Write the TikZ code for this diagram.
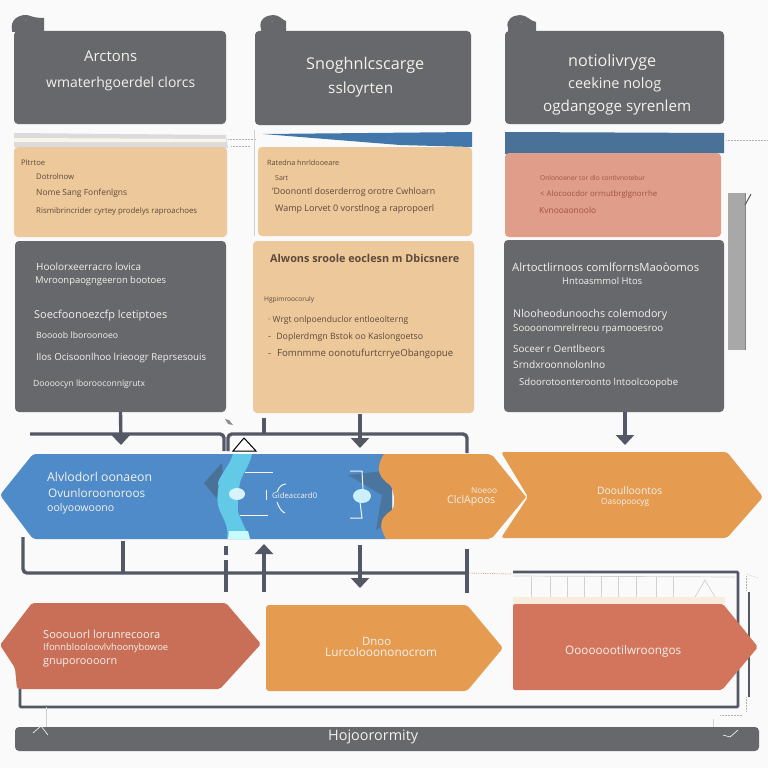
\documentclass[tikz,border=0pt]{standalone}
\usepackage{graphicx}
\usepackage{fontspec}
\setmainfont{Open Sans}
\usetikzlibrary{arrows.meta}
\definecolor{bgc}{HTML}{FAFAFA}
\definecolor{slate}{HTML}{67686C}
\definecolor{tan}{HTML}{ECC89A}
\definecolor{salmon}{HTML}{E09D8A}
\definecolor{bluec}{HTML}{4F8BC9}
\definecolor{deepb}{HTML}{4A7299}
\definecolor{orangec}{HTML}{E59B50}
\definecolor{redl}{HTML}{C96F58}
\definecolor{redr}{HTML}{D2755C}
\definecolor{conn}{HTML}{535864}
\definecolor{inkt}{HTML}{5E4A3A}
\definecolor{inks}{HTML}{A5503F}
\definecolor{lighttxt}{HTML}{F4F1EC}
\tikzset{
  panel/.style={rounded corners=4pt,inner sep=0pt,outer sep=0pt},
  link/.style={draw=conn,line width=3.4pt,line join=round,rounded corners=4pt},
  feed/.style={link,-{Triangle[width=18pt,length=10pt]}},
  hair/.style={draw=black!18,line width=0.7pt},
  fine/.style={draw=black!30,line width=0.5pt,densely dotted},
  brack/.style={draw=white!92!bluec,line width=1pt}
}
\newcommand{\panelbox}[6]{%
  \pgfmathsetmacro{\pcx}{(#2+#4)/2}\pgfmathsetmacro{\pcy}{(#3+#5)/2}%
  \pgfmathsetmacro{\pw}{#4-#2}\pgfmathsetmacro{\ph}{#5-#3}%
  \node[panel,fill=#6,minimum width=\pw pt,minimum height=\ph pt] (#1) at (\pcx,\pcy) {};}
\newcommand{\lbl}[6]{\node[anchor=west,inner sep=0pt,text=#5] (#1) at (#2,#3) {\resizebox{#4pt}{!}{#6}};}
\begin{document}
\begin{tikzpicture}[x=1pt,y=-1pt]
\useasboundingbox (0,0) rectangle (768,768);
\fill[bgc] (0,0) rectangle (768,768);

% tabs
\fill[slate] (12,30) .. controls (10,20) and (18,15) .. (26,15) .. controls (30,15) and (32,18) .. (44,18) -- (44,32) -- (12,32) -- cycle;
\fill[slate] (261,29) .. controls (258,20) and (266,15) .. (273,15) .. controls (280,15) and (282,20) .. (286,21) -- (286,32) -- (261,32) -- cycle;
\fill[slate] (508,28) .. controls (505,20) and (513,15) .. (520,15) .. controls (527,15) and (530,21) .. (536,22) -- (536,32) -- (508,32) -- cycle;
\fill[black!55] (26,20) circle (1.5pt);
\fill[black!55] (272,21) circle (1.5pt);
\fill[black!55] (521,22) circle (1.5pt);

% header panels
\panelbox{headA}{14}{31}{226}{124}{slate}
\panelbox{headB}{255}{31}{471}{125}{slate}
\panelbox{headC}{505}{31}{724}{124}{slate}

% strips
\fill[black!14] (14,133) -- (226,135) -- (228,148) -- (14,147) -- cycle;
\fill[white!80!tan] (14,138) -- (226,139) -- (226,142) -- (14,142) -- cycle;
\fill[bluec!85!black] (263,134) -- (472,132) -- (472,147) -- (400,145) -- cycle;
\fill[deepb] (505,132) -- (724,133) -- (724,153) -- (505,154) -- cycle;
\draw[fine] (228,139) -- (256,139);
\draw[fine] (231,146) -- (250,146);
\draw[fine] (726,140) -- (768,140);
\draw[hair] (254,130) -- (254,236);

% side bar
\fill[black!34] (728,193) rectangle (746,350);
\fill[black!48] (745,193) -- (746,193) -- (746,350) -- (745,350) -- cycle;
\draw[conn,line width=1pt] (745,205) -- (751,194);

% tan / salmon panels
\panelbox{noteA}{14}{147}{227}{237}{tan}
\panelbox{noteB}{258}{147}{472}{236}{tan}
\panelbox{noteC}{505}{153}{721}{237}{salmon}

% body panels
\panelbox{bodyA}{15}{241}{226}{412}{slate}
\panelbox{bodyB}{253}{241}{474}{413}{tan}
\panelbox{bodyC}{504}{240}{724}{412}{slate}

% coordinates for free ends
\coordinate (busLa) at (30,434);
\coordinate (busLb) at (224,451);
\coordinate (busRa) at (228,451);
\coordinate (busRb) at (467,453);
\coordinate (stub) at (264,418);
\coordinate (stubE) at (264,434);
\coordinate (inA) at (121,445);
\coordinate (inB) at (360,448);
\coordinate (inC) at (625,445);
\coordinate (fromB) at (360,414);

% upper connectors
\draw[link] (busLa) -- (224,434) -- (busLb);
\draw[link] (busRa) -- (228,434) -- (467,434) -- (busRb);
\draw[link] (stub) -- (stubE);
\draw[feed,rounded corners=0pt] (bodyA.south) -- (inA);
\draw[feed,rounded corners=0pt] (fromB) -- (inB);
\draw[feed,rounded corners=0pt] (625,412) -- (inC);
\draw[draw=black,line width=1pt,fill=white] (233,451) -- (244,438) -- (256,451) -- cycle;
\fill[black!45] (225,419) -- (229,420) -- (233,425) -- (228,424) -- cycle;

% middle row
\path[fill=bluec,rounded corners=3pt] (0,495) -- (33,454) -- (392,454) -- (392,539) -- (33,539) -- cycle;
\fill[deepb] (204,483) -- (222,463) -- (224,488) -- (218,500) -- cycle;
\fill[deepb!90!bluec] (348,475) -- (392,470) -- (392,520) -- (376,530) -- (382,495) -- cycle;
\fill[white!35!bluec!70!cyan] (233,454) -- (252,454) .. controls (250,465) and (241,476) .. (240,483) .. controls (237,495) and (238,505) .. (238,512) .. controls (241,520) and (246,530) .. (250,539) -- (227,539) .. controls (230,525) and (220,515) .. (218,505) .. controls (216,495) and (220,485) .. (218,483) .. controls (220,475) and (230,465) .. (233,454) -- cycle;
\fill[bgc!80!cyan] (229,531) -- (248,531) -- (250,539) -- (228,539) -- cycle;
\path[fill=orangec] (384,454) -- (488,454) -- (493,456) -- (526,497) -- (493,537) -- (488,539) -- (386,539) .. controls (378,525) and (380,518) .. (392,510) .. controls (396,505) and (394,490) .. (390,485) .. controls (380,478) and (374,470) .. (384,454) -- cycle;
\path[fill=orangec,rounded corners=3pt] (501,452) -- (727,452) -- (763,497) -- (727,538) -- (501,538) -- (528,497) -- cycle;

% marks on the blue band
\draw[brack] (245,472) -- (273,472);
\draw[brack] (240,515) -- (268,515);
\draw[brack] (350,471) -- (362,471) -- (363,490);
\draw[brack] (360,502) -- (362,518) -- (350,518);
\fill[white!85!cyan] (237,494) ellipse (8pt and 6pt);
\fill[white!80!cyan] (362,496) ellipse (9pt and 7pt);
\draw[brack] (266,490) -- (266,500);
\draw[brack] (277,492) .. controls (279,486) and (283,484) .. (286,484);
\draw[brack] (277,502) .. controls (279,508) and (282,512) .. (285,513);

% lower connectors
\coordinate (lowA) at (23,537);
\coordinate (lowAe) at (467,573);
\coordinate (dashE) at (512,574);
\draw[link] (lowA) -- (23,573) -- (lowAe);
\draw[draw=redr!70!white,line width=0.8pt,densely dotted] (lowAe) -- (dashE);
\draw[link,rounded corners=0pt] (123,541) -- (123,573);
\draw[link,rounded corners=0pt] (226,546) -- (226,555);
\draw[link,rounded corners=0pt] (226,560) -- (226,592);
\draw[feed,rounded corners=0pt] (264,592) -- (264,544);
\draw[feed,rounded corners=0pt] (360,545) -- (360,588);
\draw[link,rounded corners=0pt] (467,549) -- (467,593);

% right frame
\draw[draw=conn,line width=2.6pt,rounded corners=1pt] (513,572) -- (738,572) -- (738,707) -- (20,707) -- (20,688);
\draw[draw=conn,line width=2.6pt] (749,592) -- (749,697);
\draw[hair] (513,576) -- (735,577);
\foreach \hx in {531,550,567,584,601,618,636,656,673} {\draw[hair] (\hx,577) -- (\hx,597);}
\draw[hair] (695,597) -- (705,580) -- (715,597);
\fill[tan!35!white] (513,597) rectangle (725,604);
\draw[fine] (746,574) -- (758,578);
\draw[fine] (746,576) -- (746,590);
\draw[fine] (746,697) -- (746,712);
\draw[fine] (720,715) -- (742,715);
\draw[hair] (46,707) -- (46,727);
\draw[hair] (713,719) -- (713,727);

% bottom row
\path[fill=redl,rounded corners=2pt] (0,645) -- (32,603) -- (226,603) -- (261,644) -- (220,689) -- (17,689) -- (15,668) -- cycle;
\path[fill=orangec,rounded corners=3pt] (266,605) -- (467,605) -- (503,648) -- (467,691) -- (266,691) -- cycle;
\path[fill=redr,rounded corners=2pt] (513,604) -- (723,604) -- (758,647) -- (722,690) -- (513,690) -- cycle;
\panelbox{footer}{15}{727}{759}{751}{slate}
\draw[draw=white,line width=0.6pt] (33,733) -- (41,726) -- (48,735);
\draw[draw=white,line width=0.6pt] (723,735) -- (730,737) -- (738,730);

% header text
\lbl{ta1}{84}{56}{53}{lighttxt}{Arctons}
\lbl{ta2}{46}{84}{149}{lighttxt}{wmaterhgoerdel clorcs}
\lbl{tb1}{306}{65}{118}{lighttxt}{Snoghnlcscarge}
\lbl{tb2}{328}{90}{65}{lighttxt}{ssloyrten}
\lbl{tc1}{568}{62}{88}{lighttxt}{notiolivryge}
\lbl{tc2}{568}{85}{93}{lighttxt}{ceekine nolog}
\lbl{tc3}{543}{108}{148}{lighttxt}{ogdangoge syrenlem}

% note text
\lbl{na1}{21}{163}{24}{inkt}{Pltrtoe}
\lbl{na2}{36}{177}{38}{inkt}{Dotrolnow}
\lbl{na3}{36}{193}{91}{inkt}{Nome Sang Fonfenlgns}
\lbl{na4}{36}{211}{161}{inkt}{Rismibrincrider cyrtey prodelys raproachoes}
\lbl{nb1}{267}{163}{72}{inkt}{Ratedna hnrldooeare}
\lbl{nb2}{275}{178}{13}{inkt}{Sart}
\lbl{nb3}{272}{192}{163}{inkt}{'Doonontl doserderrog orotre Cwhloarn}
\lbl{nb4}{275}{209}{159}{inkt}{Wamp Lorvet 0 vorstlnog a rapropoerl}
\lbl{nc1}{540}{178}{105}{inks}{Onlonoener tor dlo contlvnotebur}
\lbl{nc2}{540}{194}{117}{inks}{< Alocoocdor orrnutbrglgnorrhe}
\lbl{nc3}{539}{210}{57}{inks}{Kvnooaonoolo}

% left body text
\lbl{ba1}{36}{267}{105}{lighttxt}{Hoolorxeerracro lovica}
\lbl{ba2}{35}{281}{131}{lighttxt}{Mvroonpaogngeeron bootoes}
\lbl{ba3}{34}{316}{133}{lighttxt}{Soecfoonoezcfp lcetiptoes}
\lbl{ba4}{36}{335}{82}{lighttxt}{Boooob lboroonoeo}
\lbl{ba5}{36}{358}{170}{lighttxt}{Ilos Ocisoonlhoo lrieoogr Reprsesouis}
\lbl{ba6}{33}{384}{112}{lighttxt}{Doooocyn lborooconnlgrutx}

% middle body text
\lbl{bb1}{270}{258}{189}{inkt}{\bfseries Alwons sroole eoclesn m Dbicsnere}
\lbl{bb2}{264}{300}{50}{inkt}{Hgpimroocoruly}
\lbl{bb3}{268}{320}{140}{inkt}{· Wrgt onlpoenduclor entloeolterng}
\lbl{bb4}{268}{337}{155}{inkt}{-\hspace{0.6em}Doplerdmgn Bstok oo Kaslongoetso}
\lbl{bb5}{268}{354}{185}{inkt}{-\hspace{0.6em}Fomnmme oonotufurtcrryeObangopue}

% right body text
\lbl{bc1}{512}{267}{187}{lighttxt}{Alrtoctlirnoos comlfornsMaoòomos}
\lbl{bc2}{562}{281}{80}{lighttxt}{Hntoasmmol Htos}
\lbl{bc3}{513}{315}{154}{lighttxt}{Nlooheodunoochs colemodory}
\lbl{bc4}{513}{329}{150}{lighttxt}{Soooonomrelrreou rpamooesroo}
\lbl{bc5}{513}{349}{92}{lighttxt}{Soceer r Oentlbeors}
\lbl{bc6}{513}{365}{92}{lighttxt}{Srndxroonnolonlno}
\lbl{bc7}{519}{383}{159}{lighttxt}{Sdoorotoonteroonto lntoolcoopobe}

% band text
\lbl{bl1}{47}{477}{105}{lighttxt}{Alvlodorl oonaeon}
\lbl{bl2}{48}{493}{97}{lighttxt}{Ovunloroonoroos}
\lbl{bl3}{47}{509}{67}{lighttxt}{oolyoowoono}
\lbl{bl4}{272}{496}{45}{lighttxt}{Gideaccard0}
\lbl{or1}{471}{491}{26}{lighttxt}{Noeoo}
\lbl{or2}{447}{501}{48}{lighttxt}{ClclApoos}
\lbl{or3}{597}{491}{65}{lighttxt}{Dooulloontos}
\lbl{or4}{601}{502}{48}{lighttxt}{Oasopoocyg}

% bottom text
\lbl{rl1}{43}{634}{117}{lighttxt}{Sooouorl lorunrecoora}
\lbl{rl2}{43}{648}{125}{lighttxt}{Ifonnblooloovlvhoonybowoe}
\lbl{rl3}{43}{663}{74}{lighttxt}{gnuporoooorn}
\lbl{om1}{362}{641}{29}{lighttxt}{Dnoo}
\lbl{om2}{325}{652}{112}{lighttxt}{Lurcolooononocrom}
\lbl{rr1}{565}{651}{116}{lighttxt}{Oooooootilwroongos}
\lbl{ft1}{328}{737}{90}{lighttxt}{Hojoorormity}
\end{tikzpicture}
\end{document}
